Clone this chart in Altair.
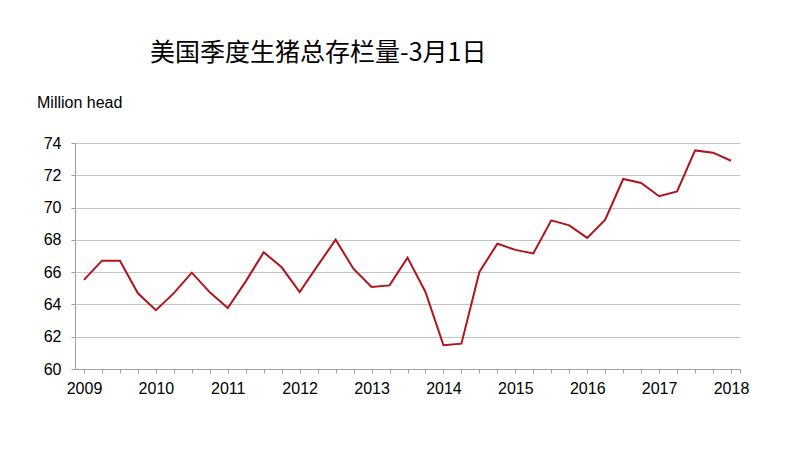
import altair as alt
import pandas as pd

period = [2009.0, 2009.25, 2009.5, 2009.75,
          2010.0, 2010.25, 2010.5, 2010.75,
          2011.0, 2011.25, 2011.5, 2011.75,
          2012.0, 2012.25, 2012.5, 2012.75,
          2013.0, 2013.25, 2013.5, 2013.75,
          2014.0, 2014.25, 2014.5, 2014.75,
          2015.0, 2015.25, 2015.5, 2015.75,
          2016.0, 2016.25, 2016.5, 2016.75,
          2017.0, 2017.25, 2017.5, 2017.75,
          2018.0]
inventory = [65.52, 66.71, 66.71, 64.69, 63.64, 64.70, 65.97, 64.75,
             63.78, 65.43, 67.23, 66.30, 64.77, 66.40, 68.01, 66.20,
             65.08, 65.18, 66.90, 64.77, 61.47, 61.57, 66.01, 67.76,
             67.38, 67.16, 69.21, 68.90, 68.12, 69.25, 71.77, 71.52,
             70.70, 71.00, 73.54, 73.40, 72.90]
y_ticks = [60, 62, 64, 66, 68, 70, 72, 74]
x_ticks = period + [2018.125]

title_text = "美国季度生猪总存栏量-3月1日"
unit_text = "Million head"

df = pd.DataFrame({"t": period, "v": inventory})

line = alt.Chart(df).mark_line(color="#b0141c", strokeWidth=2).encode(
    x=alt.X("t:Q",
            scale=alt.Scale(domain=[2008.875, 2018.125], nice=False, zero=False),
            axis=alt.Axis(values=x_ticks, title=None, grid=False,
                          labelExpr="datum.value % 1 == 0 ? toString(datum.value) : ''",
                          labelOverlap=False, labelFlush=False, labelBound=False,
                          tickSize=4, labelPadding=7, domainColor="#a0a0a0",
                          tickColor="#a0a0a0", labelFont="Liberation Sans",
                          labelFontSize=16, labelColor="#000000")),
    y=alt.Y("v:Q",
            scale=alt.Scale(domain=[60, 74], nice=False, zero=False),
            axis=alt.Axis(values=y_ticks, title=None, grid=True,
                          gridColor="#c4c4c4", gridWidth=1,
                          tickSize=4, labelPadding=10, domainColor="#a0a0a0",
                          tickColor="#a0a0a0", labelFont="Liberation Sans",
                          labelFontSize=16, labelColor="#000000")),
)

one = alt.Data(values=[{"k": 1}])

title = alt.Chart(one).mark_text(
    font="Noto Sans CJK SC", fontSize=25, align="left", baseline="middle", color="#000000"
).encode(x=alt.value(75), y=alt.value(-90), text=alt.value(title_text))

unit = alt.Chart(one).mark_text(
    font="Liberation Sans", fontSize=16, align="left", baseline="middle", color="#000000"
).encode(x=alt.value(-38), y=alt.value(-40), text=alt.value(unit_text))

chart = alt.layer(line, title, unit).properties(
    width=665, height=226,
    autosize=alt.AutoSizeParams(type="none"),
    padding={"left": 67, "top": 135, "right": 50, "bottom": 70},
    background="#ffffff",
).configure_view(stroke=None)

chart.save("out.html", embed_options={"renderer": "svg", "actions": False})
